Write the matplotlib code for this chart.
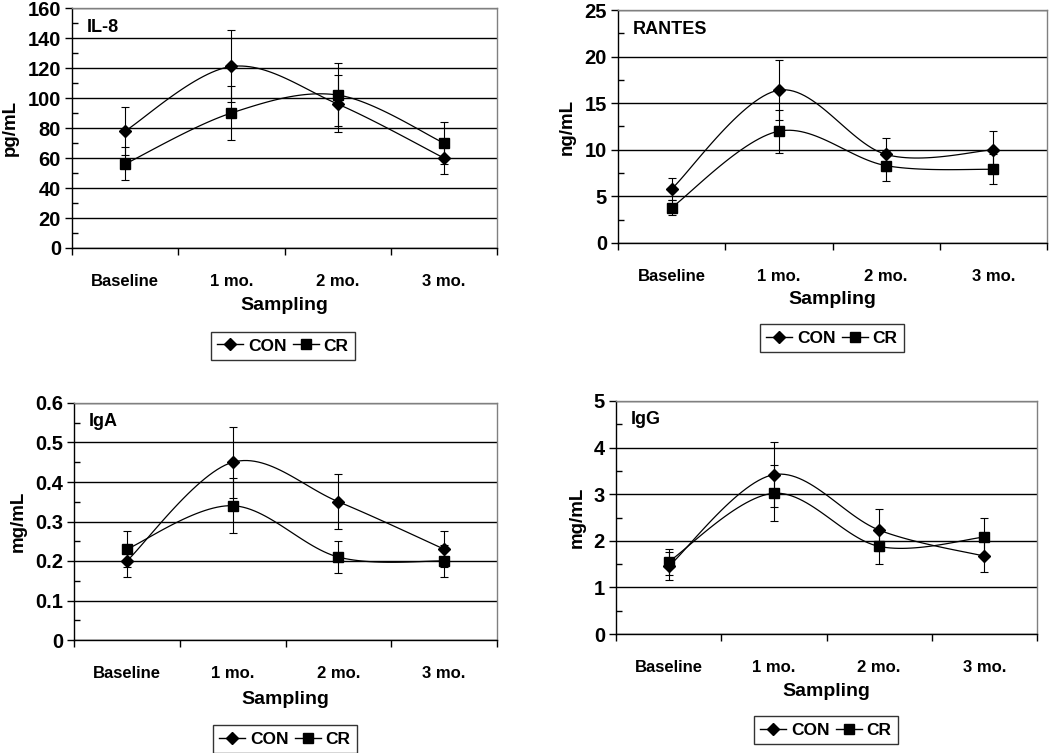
import numpy as np
import matplotlib
matplotlib.use("Agg")
import matplotlib.pyplot as plt
from matplotlib.lines import Line2D
from matplotlib.ticker import MultipleLocator

plt.rcParams['font.family'] = ['Liberation Sans', 'DejaVu Sans']
plt.rcParams['font.weight'] = 'bold'

# sampling categories
categories = ['Baseline', '1 mo.', '2 mo.', '3 mo.']

# IL-8 (pg/mL)
il8_con = [78, 121, 96, 60]
il8_con_err = [16, 24, 19, 11]
il8_cr = [56, 90, 102, 70]
il8_cr_err = [11, 18, 21, 14]

# RANTES (ng/mL)
rantes_con = [5.8, 16.4, 9.5, 10.0]
rantes_con_err = [1.2, 3.2, 1.8, 2.0]
rantes_cr = [3.8, 12.0, 8.3, 7.9]
rantes_cr_err = [0.8, 2.3, 1.6, 1.6]

# IgA (mg/mL)
iga_con = [0.20, 0.45, 0.35, 0.23]
iga_con_err = [0.04, 0.09, 0.07, 0.045]
iga_cr = [0.23, 0.34, 0.21, 0.20]
iga_cr_err = [0.045, 0.07, 0.04, 0.04]

# IgG (mg/mL)
igg_con = [1.45, 3.42, 2.23, 1.67]
igg_con_err = [0.30, 0.70, 0.45, 0.33]
igg_cr = [1.55, 3.02, 1.88, 2.08]
igg_cr_err = [0.28, 0.60, 0.37, 0.42]

W, H = 1050, 753


def smooth(x, y, n=30):
    # excel-like smoothed line (cubic bezier, catmull-rom controls)
    x = np.asarray(x, float)
    y = np.asarray(y, float)
    px = np.concatenate([[x[0]], x, [x[-1]]])
    py = np.concatenate([[y[0]], y, [y[-1]]])
    xs, ys = [], []
    t = np.linspace(0, 1, n)
    for i in range(1, len(px) - 2):
        p0 = np.array([px[i], py[i]])
        p3 = np.array([px[i + 1], py[i + 1]])
        c1 = p0 + (np.array([px[i + 1], py[i + 1]]) - np.array([px[i - 1], py[i - 1]])) / 6
        c2 = p3 - (np.array([px[i + 2], py[i + 2]]) - np.array([px[i], py[i]])) / 6
        b = ((1 - t) ** 3)[:, None] * p0 + (3 * (1 - t) ** 2 * t)[:, None] * c1 \
            + (3 * (1 - t) * t ** 2)[:, None] * c2 + (t ** 3)[:, None] * p3
        xs.extend(b[:, 0])
        ys.extend(b[:, 1])
    return xs, ys


def panel(fig, box, con, con_err, cr, cr_err, label, ylabel, ymax, ystep, fmt, leg_xy, samp_y):
    l, r, t, b = box
    ax = fig.add_axes([l / W, 1 - b / H, (r - l) / W, (b - t) / H])
    xc = np.arange(len(categories)) + 0.5
    for vals, err, mk, ms in [(con, con_err, 'D', 6), (cr, cr_err, 's', 7)]:
        sx, sy = smooth(xc, vals)
        ax.plot(sx, sy, color='black', lw=0.9, zorder=3)
        ax.errorbar(xc, vals, yerr=err, fmt=mk, color='black', ms=ms,
                    ecolor='black', elinewidth=0.8, capsize=3, capthick=0.8, zorder=4)
    ax.set_xlim(0, len(categories))
    ax.set_ylim(0, ymax)
    ax.yaxis.set_major_locator(MultipleLocator(ystep))
    ax.yaxis.set_minor_locator(MultipleLocator(ystep / 2))
    ax.set_yticklabels([fmt(v) for v in ax.get_yticks()])
    ax.grid(axis='y', which='major', color='black', lw=1.0)
    ax.set_axisbelow(True)
    ax.tick_params(axis='y', which='major', direction='out', length=5, width=1,
                   labelsize=14.5, pad=3)
    ax.tick_params(axis='y', which='minor', direction='in', length=4, width=1)
    ax.set_xticks(range(len(categories) + 1))
    ax.set_xticklabels([])
    ax.set_xticks(xc, minor=True)
    ax.set_xticklabels(categories, minor=True, fontsize=12, fontweight='bold')
    ax.tick_params(axis='x', which='major', direction='out', length=5, width=1)
    ax.tick_params(axis='x', which='minor', length=0, pad=19)
    for s in ['left', 'bottom']:
        ax.spines[s].set_color('black')
        ax.spines[s].set_linewidth(1.0)
    for s in ['top', 'right']:
        ax.spines[s].set_color('#808080')
        ax.spines[s].set_linewidth(1.0)
    ax.set_ylabel(ylabel, fontsize=13.5, fontweight='bold', labelpad=6)
    ax.text(15 / (r - l), 1 - 19 / (b - t), label, transform=ax.transAxes,
            fontsize=13, fontweight='bold', va='center', ha='left')
    fig.text((l + r) / 2 / W, 1 - samp_y / H, 'Sampling', ha='center', va='center',
             fontsize=14, fontweight='bold')
    handles = [Line2D([], [], color='black', marker='D', ms=6, lw=1),
               Line2D([], [], color='black', marker='s', ms=7, lw=1)]
    leg = fig.legend(handles, ['CON', 'CR'], loc='center',
                     bbox_to_anchor=(leg_xy[0] / W, 1 - leg_xy[1] / H),
                     ncol=2, frameon=True, fancybox=False,
                     handlelength=1.5, handletextpad=0.25, columnspacing=0.4,
                     borderpad=0.35, prop={'weight': 'bold', 'size': 12.5})
    leg.get_frame().set_edgecolor('black')
    leg.get_frame().set_linewidth(1.0)
    return ax


fig = plt.figure(figsize=(W / 100, H / 100), dpi=100)
fig.patch.set_facecolor('white')

panel(fig, (72, 497, 8, 248), il8_con, il8_con_err, il8_cr, il8_cr_err,
      'IL-8', 'pg/mL', 160, 20, lambda v: f'{v:.0f}', (283, 346), 305)
panel(fig, (618, 1047, 10, 243), rantes_con, rantes_con_err, rantes_cr, rantes_cr_err,
      'RANTES', 'ng/mL', 25, 5, lambda v: f'{v:.0f}', (832, 338), 300)
panel(fig, (74, 497, 403, 640), iga_con, iga_con_err, iga_cr, iga_cr_err,
      'IgA', 'mg/mL', 0.6, 0.1, lambda v: '0' if v == 0 else f'{v:.1f}', (285, 739), 700)
panel(fig, (616, 1037, 401, 634), igg_con, igg_con_err, igg_cr, igg_cr_err,
      'IgG', 'mg/mL', 5, 1, lambda v: f'{v:.0f}', (826, 730), 692)

fig.savefig('out.png', dpi=100)
